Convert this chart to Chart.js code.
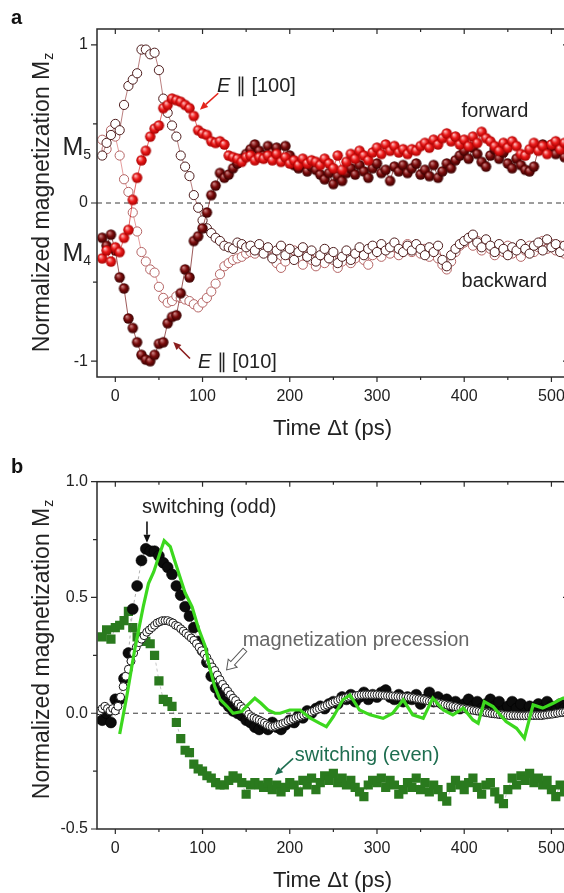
<!DOCTYPE html>
<html><head><meta charset="utf-8">
<script src="https://cdn.jsdelivr.net/npm/chart.js@4.4.1/dist/chart.umd.min.js"></script>
<style>
html,body{margin:0;padding:0;background:#fff;overflow:hidden;width:564px;height:893px;}
#wrapA{position:absolute;left:0;top:0;width:600px;height:450px;}
#wrapB{position:absolute;left:0;top:450px;width:600px;height:443px;}
canvas{display:block;}
</style></head><body>
<div id="wrapA"><canvas id="cA" width="600" height="450"></canvas></div>
<div id="wrapB"><canvas id="cB" width="600" height="443"></canvas></div>
<script>
// ---------------- DATA ----------------
const timeA = [-15,-10,-5,0,5,10,15,20,25,30,35,40,45,50,55,60,65,70,75,80,85,90,95,100,105,110,115,120,125,130,135,140,145,150,155,160,165,170,175,180,185,190,195,200,205,210,215,220,225,230,235,240,245,250,255,260,265,270,275,280,285,290,295,300,305,310,315,320,325,330,335,340,345,350,355,360,365,370,375,380,385,390,395,400,405,410,415,420,425,430,435,440,445,450,455,460,465,470,475,480,485,490,495,500,505,510,515,520];
// forward, E || [100] (bright red spheres)
const fwd100 = [-0.35,-0.30,-0.37,-0.28,-0.31,-0.22,-0.17,0.02,0.16,0.27,0.33,0.42,0.47,0.49,0.60,0.62,0.66,0.65,0.64,0.62,0.60,0.55,0.46,0.44,0.43,0.39,0.38,0.39,0.37,0.30,0.29,0.28,0.26,0.29,0.30,0.27,0.29,0.28,0.30,0.27,0.31,0.26,0.29,0.25,0.27,0.24,0.28,0.25,0.27,0.26,0.24,0.28,0.25,0.22,0.30,0.21,0.26,0.31,0.28,0.33,0.30,0.27,0.32,0.35,0.31,0.37,0.33,0.36,0.32,0.34,0.31,0.34,0.33,0.36,0.38,0.35,0.40,0.37,0.41,0.44,0.39,0.42,0.37,0.40,0.36,0.42,0.38,0.45,0.41,0.39,0.36,0.33,0.38,0.35,0.39,0.36,0.31,0.30,0.34,0.38,0.33,0.36,0.31,0.37,0.39,0.34,0.38,0.35];
// forward, E || [010] (dark red spheres)
const fwd010 = [-0.22,-0.27,-0.20,-0.30,-0.47,-0.54,-0.73,-0.79,-0.88,-0.96,-0.99,-1.00,-0.96,-0.89,-0.88,-0.76,-0.72,-0.71,-0.57,-0.42,-0.47,-0.24,-0.21,-0.16,-0.06,0.05,0.11,0.19,0.16,0.18,0.22,0.25,0.28,0.31,0.34,0.37,0.33,0.30,0.36,0.32,0.35,0.27,0.36,0.30,0.24,0.22,0.25,0.20,0.23,0.21,0.18,0.15,0.19,0.12,0.17,0.14,0.19,0.22,0.18,0.24,0.20,0.16,0.22,0.25,0.19,0.21,0.14,0.23,0.20,0.24,0.19,0.22,0.25,0.18,0.21,0.17,0.24,0.16,0.20,0.25,0.22,0.27,0.30,0.33,0.28,0.35,0.31,0.26,0.23,0.30,0.34,0.28,0.32,0.25,0.22,0.28,0.24,0.21,0.20,0.23,0.34,0.37,0.33,0.36,0.31,0.35,0.29,0.33];
// backward, E || [100] (open circles, dark edge)
const bwd100 = [0.30,0.38,0.43,0.50,0.46,0.62,0.74,0.78,0.82,0.97,0.97,0.94,0.95,0.84,0.66,0.57,0.49,0.42,0.30,0.23,0.17,0.05,-0.03,-0.11,-0.16,-0.19,-0.22,-0.24,-0.27,-0.28,-0.29,-0.25,-0.26,-0.28,-0.27,-0.30,-0.26,-0.32,-0.28,-0.35,-0.30,-0.27,-0.33,-0.29,-0.36,-0.31,-0.28,-0.34,-0.30,-0.37,-0.33,-0.29,-0.35,-0.31,-0.38,-0.34,-0.30,-0.36,-0.32,-0.28,-0.33,-0.29,-0.27,-0.31,-0.26,-0.30,-0.28,-0.25,-0.29,-0.31,-0.27,-0.30,-0.26,-0.29,-0.33,-0.28,-0.31,-0.27,-0.36,-0.40,-0.33,-0.29,-0.26,-0.24,-0.22,-0.20,-0.25,-0.28,-0.23,-0.27,-0.31,-0.26,-0.29,-0.33,-0.28,-0.30,-0.26,-0.29,-0.32,-0.27,-0.25,-0.30,-0.23,-0.28,-0.26,-0.31,-0.27,-0.29];
// backward, E || [010] (open circles, pink edge)
const bwd010 = [0.40,0.34,0.46,0.42,0.30,0.15,0.07,-0.06,-0.18,-0.31,-0.37,-0.42,-0.44,-0.53,-0.60,-0.63,-0.62,-0.59,-0.60,-0.61,-0.62,-0.64,-0.66,-0.63,-0.60,-0.56,-0.51,-0.45,-0.40,-0.38,-0.36,-0.35,-0.34,-0.32,-0.31,-0.32,-0.30,-0.29,-0.31,-0.34,-0.38,-0.41,-0.37,-0.33,-0.30,-0.35,-0.39,-0.33,-0.36,-0.40,-0.34,-0.38,-0.32,-0.36,-0.41,-0.37,-0.33,-0.38,-0.35,-0.31,-0.36,-0.39,-0.33,-0.30,-0.34,-0.29,-0.32,-0.28,-0.33,-0.30,-0.26,-0.31,-0.28,-0.32,-0.29,-0.34,-0.30,-0.35,-0.39,-0.42,-0.37,-0.31,-0.27,-0.25,-0.23,-0.27,-0.24,-0.30,-0.26,-0.29,-0.33,-0.28,-0.31,-0.27,-0.32,-0.29,-0.34,-0.30,-0.27,-0.31,-0.28,-0.24,-0.29,-0.26,-0.30,-0.27,-0.32,-0.28];

const timeB = [-15,-10,-5,0,5,10,15,20,25,30,35,40,45,50,55,60,65,70,75,80,85,90,95,100,105,110,115,120,125,130,135,140,145,150,155,160,165,170,175,180,185,190,195,200,205,210,215,220,225,230,235,240,245,250,255,260,265,270,275,280,285,290,295,300,305,310,315,320,325,330,335,340,345,350,355,360,365,370,375,380,385,390,395,400,405,410,415,420,425,430,435,440,445,450,455,460,465,470,475,480,485,490,495,500,505,510,515,520];
// switching (odd) — black filled circles
const switchOdd = [-0.03,0.00,-0.04,0.06,0.06,0.15,0.26,0.45,0.55,0.66,0.71,0.70,0.70,0.68,0.65,0.63,0.60,0.55,0.51,0.46,0.42,0.37,0.31,0.27,0.22,0.16,0.11,0.08,0.05,0.03,0.01,0.00,-0.01,-0.03,-0.04,-0.06,-0.07,-0.05,-0.07,-0.04,-0.06,-0.07,-0.05,-0.03,-0.04,-0.01,-0.02,0.01,0.00,0.02,0.03,0.02,0.04,0.05,0.04,0.07,0.06,0.08,0.05,0.07,0.09,0.06,0.08,0.07,0.09,0.10,0.07,0.06,0.08,0.05,0.07,0.06,0.08,0.04,0.06,0.09,0.05,0.07,0.04,0.06,0.03,0.05,0.02,0.04,0.06,0.03,0.05,0.02,0.04,0.06,0.03,0.05,0.01,0.03,0.05,0.02,0.04,0.00,0.03,0.01,0.04,0.02,0.05,0.03,0.01,0.04,0.02,0.03];
// switching (even) — green squares
const switchEven = [0.33,0.36,0.32,0.37,0.38,0.40,0.44,0.37,0.33,0.32,0.31,0.30,0.25,0.14,0.06,0.05,0.03,-0.04,-0.11,-0.16,-0.17,-0.22,-0.24,-0.25,-0.27,-0.28,-0.30,-0.31,-0.31,-0.29,-0.27,-0.28,-0.30,-0.35,-0.31,-0.30,-0.31,-0.32,-0.30,-0.33,-0.31,-0.34,-0.32,-0.30,-0.31,-0.34,-0.29,-0.31,-0.28,-0.33,-0.30,-0.27,-0.29,-0.26,-0.30,-0.28,-0.31,-0.29,-0.32,-0.34,-0.36,-0.31,-0.29,-0.30,-0.28,-0.32,-0.29,-0.31,-0.35,-0.33,-0.30,-0.32,-0.28,-0.33,-0.30,-0.34,-0.31,-0.33,-0.36,-0.38,-0.32,-0.29,-0.31,-0.33,-0.30,-0.28,-0.32,-0.35,-0.31,-0.30,-0.34,-0.37,-0.39,-0.33,-0.28,-0.31,-0.27,-0.29,-0.26,-0.30,-0.28,-0.31,-0.29,-0.33,-0.36,-0.31,-0.34,-0.32];
// magnetization precession — open circles (denser sampling)
const timePrec = [-18,-15,-12,-9,-6,-3,0,3,6,9,12,15,18,21,24,27,30,33,36,39,42,45,48,51,54,57,60,63,66,69,72,75,78,81,84,87,90,93,96,99,102,105,108,111,114,117,120,123,126,129,132,135,138,141,144,147,150,153,156,159,162,165,168,171,174,177,180,183,186,189,192,195,198,201,204,207,210,213,216,219,222,225,228,231,234,237,240,243,246,249,252,255,258,261,264,267,270,273,276,279,282,285,288,291,294,297,300,303,306,309,312,315,318,321,324,327,330,333,336,339,342,345,348,351,354,357,360,363,366,369,372,375,378,381,384,387,390,393,396,399,402,405,408,411,414,417,420,423,426,429,432,435,438,441,444,447,450,453,456,459,462,465,468,471,474,477,480,483,486,489,492,495,498,501,504,507,510,513,516,519];
const precession = [0.01,0.02,0.03,0.02,0.01,0.02,0.01,0.03,0.07,0.115,0.16,0.19,0.225,0.26,0.285,0.305,0.32,0.335,0.35,0.36,0.37,0.38,0.39,0.395,0.40,0.40,0.40,0.395,0.39,0.38,0.375,0.365,0.355,0.345,0.335,0.325,0.315,0.30,0.285,0.27,0.255,0.24,0.22,0.20,0.185,0.165,0.145,0.125,0.11,0.095,0.08,0.065,0.055,0.04,0.03,0.02,0.01,-0.005,-0.015,-0.02,-0.025,-0.03,-0.036,-0.042,-0.05,-0.055,-0.058,-0.056,-0.052,-0.048,-0.044,-0.04,-0.034,-0.03,-0.025,-0.02,-0.016,-0.012,-0.008,-0.004,0.0,0.005,0.01,0.015,0.02,0.025,0.03,0.035,0.04,0.045,0.05,0.055,0.06,0.063,0.066,0.069,0.072,0.074,0.076,0.078,0.079,0.08,0.08,0.08,0.08,0.08,0.08,0.079,0.078,0.077,0.076,0.075,0.074,0.073,0.072,0.071,0.07,0.07,0.07,0.068,0.066,0.064,0.062,0.06,0.058,0.055,0.052,0.05,0.047,0.045,0.043,0.04,0.038,0.035,0.033,0.03,0.028,0.025,0.022,0.02,0.018,0.016,0.014,0.012,0.01,0.008,0.006,0.004,0.002,0.0,-0.002,-0.003,-0.004,-0.006,-0.007,-0.008,-0.009,-0.01,-0.01,-0.01,-0.011,-0.011,-0.011,-0.011,-0.01,-0.01,-0.01,-0.01,-0.01,-0.01,-0.008,-0.007,-0.005,-0.004,-0.002,0.0,0.002,0.003,0.004,0.005];
// green line
const lineTime = [5,13,22,32,38,44,51,56,63,68,74,80,88,95,103,108,114,120,128,135,145,152,160,167,175,183,189,200,212,223,234,242,250,261,269,280,292,307,318,330,341,353,364,376,387,399,410,416,423,433,448,460,469,479,490,502,513,519];
const lineVal = [-0.09,0.07,0.27,0.46,0.56,0.61,0.69,0.745,0.72,0.66,0.59,0.52,0.46,0.37,0.29,0.20,0.115,0.06,0.03,0.0,0.007,0.036,0.065,0.043,0.014,0.0,0.0,0.014,0.014,-0.02,-0.043,-0.058,-0.015,0.058,0.079,0.014,-0.007,-0.022,0.0,0.058,-0.007,-0.022,0.065,0.014,-0.007,0.022,-0.029,-0.043,0.05,0.029,-0.036,-0.065,-0.108,0.036,0.022,0.043,0.065,0.07];

// tick values and labels
const xMajor = [0,100,200,300,400,500];
const xMinor = [50,150,250,350,450];
const yMajorA = [-1,0,1];
const yMinorA = [-0.5,0.5];
const yMajorB = [-0.5,0,0.5,1.0];
const yMinorB = [-0.25,0.25,0.75];
const levelLabelsA = [{main:'M',sub:'5',v:0.36},{main:'M',sub:'4',v:-0.31}];

// ---------------- STYLE / HELPERS ----------------
const FONT = '"Liberation Sans", Arial, Helvetica, sans-serif';
const TXT = '#222';
const pts = (xs, ys) => xs.map((x,i)=>({x, y: ys[i]}));

function makeSphere(r, hi, base, rim){
  const s = Math.ceil(r*2+2);
  const c = document.createElement('canvas'); c.width = s; c.height = s;
  const g = c.getContext('2d'); const cx = s/2, cy = s/2;
  const gr = g.createRadialGradient(cx - r*0.35, cy - r*0.4, r*0.05, cx, cy, r);
  gr.addColorStop(0, hi); gr.addColorStop(0.5, base); gr.addColorStop(1, rim);
  g.fillStyle = gr; g.beginPath(); g.arc(cx, cy, r, 0, Math.PI*2); g.fill();
  return c;
}
const sphereRed = makeSphere(5.2, '#ffc4c4', '#ec1b1b', '#a80000');
const sphereDark = makeSphere(5.2, '#d08a8a', '#7c0c0c', '#380000');

function drawParts(ctx, x, y, parts, size, color, align){
  let w = 0;
  for (const p of parts){ ctx.font = `${p[1]||''} ${size}px ${FONT}`; w += ctx.measureText(p[0]).width; }
  let cx = align === 'right' ? x - w : x;
  ctx.fillStyle = color; ctx.textBaseline = 'alphabetic'; ctx.textAlign = 'left';
  for (const p of parts){ ctx.font = `${p[1]||''} ${size}px ${FONT}`; ctx.fillText(p[0], cx, y); cx += ctx.measureText(p[0]).width; }
}
function solidArrow(ctx, x1,y1,x2,y2,color,lw,hl,hw){
  const a = Math.atan2(y2-y1, x2-x1);
  const bx = x2 - hl*Math.cos(a), by = y2 - hl*Math.sin(a);
  ctx.save(); ctx.strokeStyle = color; ctx.lineWidth = lw; ctx.setLineDash([]);
  ctx.beginPath(); ctx.moveTo(x1,y1); ctx.lineTo(bx,by); ctx.stroke();
  ctx.fillStyle = color; ctx.beginPath(); ctx.moveTo(x2,y2);
  ctx.lineTo(bx + hw/2*Math.sin(a), by - hw/2*Math.cos(a));
  ctx.lineTo(bx - hw/2*Math.sin(a), by + hw/2*Math.cos(a));
  ctx.closePath(); ctx.fill(); ctx.restore();
}
function hollowArrow(ctx, x1,y1,x2,y2, sw, hw, hl, color){
  const a = Math.atan2(y2-y1, x2-x1), L = Math.hypot(x2-x1, y2-y1);
  ctx.save(); ctx.translate(x1,y1); ctx.rotate(a); ctx.beginPath();
  ctx.moveTo(0,-sw/2); ctx.lineTo(L-hl,-sw/2); ctx.lineTo(L-hl,-hw/2); ctx.lineTo(L,0);
  ctx.lineTo(L-hl,hw/2); ctx.lineTo(L-hl,sw/2); ctx.lineTo(0,sw/2); ctx.closePath();
  ctx.fillStyle = '#fff'; ctx.fill(); ctx.strokeStyle = color; ctx.lineWidth = 1; ctx.stroke(); ctx.restore();
}

function decoPlugin(cfg){
  return {
    id: 'deco',
    beforeDatasetsDraw(chart){
      const {ctx, chartArea:a, scales:{y}} = chart;
      const y0 = y.getPixelForValue(0);
      ctx.save(); ctx.strokeStyle = '#3a3a3a'; ctx.lineWidth = 1; ctx.setLineDash([5,4]);
      ctx.beginPath(); ctx.moveTo(a.left, y0); ctx.lineTo(a.right, y0); ctx.stroke(); ctx.restore();
    },
    afterDraw(chart){
      const {ctx, chartArea:a, scales:{x, y}} = chart;
      ctx.save();
      ctx.strokeStyle = '#2a2a2a'; ctx.lineWidth = 1.5; ctx.setLineDash([]);
      ctx.strokeRect(a.left, a.top, a.right - a.left, a.bottom - a.top);
      ctx.lineWidth = 1.2;
      const tickX = (vals, len, lenIn) => vals.forEach(v => { const px = x.getPixelForValue(v);
        ctx.beginPath(); ctx.moveTo(px, a.bottom); ctx.lineTo(px, a.bottom + len);
        ctx.moveTo(px, a.top); ctx.lineTo(px, a.top + lenIn); ctx.stroke(); });
      const tickY = (vals, len, lenIn) => vals.forEach(v => { const py = y.getPixelForValue(v);
        ctx.beginPath(); ctx.moveTo(a.left, py); ctx.lineTo(a.left - len, py);
        ctx.moveTo(a.right, py); ctx.lineTo(a.right - lenIn, py); ctx.stroke(); });
      tickX(xMajor, 5, 5); tickX(xMinor, 3, 3);
      tickY(cfg.yMajor, 6, 5); tickY(cfg.yMinor, 4, 3);
      ctx.fillStyle = '#111'; ctx.font = `bold 20px ${FONT}`; ctx.textBaseline = 'alphabetic'; ctx.textAlign = 'left';
      ctx.fillText(cfg.letter, 11, cfg.letterY);
      ctx.save(); ctx.translate(49, cfg.yTitleCenter); ctx.rotate(-Math.PI/2);
      ctx.font = `23px ${FONT}`; const w1 = ctx.measureText('Normalized magnetization M').width;
      ctx.font = `14px ${FONT}`; const w2 = ctx.measureText('z').width;
      const st = -(w1 + w2)/2; ctx.fillStyle = TXT;
      ctx.font = `23px ${FONT}`; ctx.fillText('Normalized magnetization M', st, 0);
      ctx.font = `14px ${FONT}`; ctx.fillText('z', st + w1 + 1, 4);
      ctx.restore();
      ctx.font = `22px ${FONT}`; ctx.fillStyle = TXT; ctx.textAlign = 'center';
      ctx.fillText('Time \u0394t (ps)', (a.left + a.right)/2, a.bottom + 58);
      ctx.textAlign = 'left';
      (cfg.levels || []).forEach(L => {
        const py = y.getPixelForValue(L.v);
        ctx.font = `14px ${FONT}`; const ws = ctx.measureText(L.sub).width;
        ctx.font = `25px ${FONT}`; const wm = ctx.measureText(L.main).width;
        const right = a.left - 6; ctx.fillStyle = TXT;
        ctx.fillText(L.main, right - ws - wm, py + 9);
        ctx.font = `14px ${FONT}`; ctx.fillText(L.sub, right - ws, py + 13);
      });
      (cfg.arrows || []).forEach(A => {
        const x1 = x.getPixelForValue(A.from[0]), y1 = y.getPixelForValue(A.from[1]);
        const x2 = x.getPixelForValue(A.to[0]), y2 = y.getPixelForValue(A.to[1]);
        if (A.hollow) hollowArrow(ctx, x1,y1,x2,y2, 5, 12, 9, A.color);
        else solidArrow(ctx, x1,y1,x2,y2, A.color, 1.6, 8, 7);
      });
      (cfg.texts || []).forEach(T => {
        drawParts(ctx, x.getPixelForValue(T.t), y.getPixelForValue(T.v), T.parts, T.size, T.color);
      });
      ctx.restore();
    }
  };
}

function scalesCfg(yMin, yMax, yTicks, yFmt, xHeight){
  const tickFont = {family: FONT, size: 16};
  return {
    x: { type:'linear', position:'bottom', min:-21, max:519,
      grid:{display:false, drawTicks:false}, border:{display:false},
      ticks:{padding:10, color:TXT, font:tickFont, maxRotation:0, autoSkip:false, callback:v=>String(v)},
      afterBuildTicks: s => { s.ticks = xMajor.map(v=>({value:v})); },
      afterFit: s => { s.height = xHeight; } },
    y: { type:'linear', position:'left', min:yMin, max:yMax,
      grid:{display:false, drawTicks:false}, border:{display:false},
      ticks:{padding:9, color:TXT, font:tickFont, autoSkip:false, callback:yFmt},
      afterBuildTicks: s => { s.ticks = yTicks.map(v=>({value:v})); },
      afterFit: s => { s.width = 97; } }
  };
}

const common = {
  responsive:false, animation:false, events:[],
  plugins:{legend:{display:false}, tooltip:{enabled:false}}
};

// ---------------- PANEL A ----------------
new Chart(document.getElementById('cA'), {
  type:'scatter',
  data:{ datasets:[
    { label:'forward E\u2225[100]', data:pts(timeA, fwd100), showLine:true, borderColor:'rgba(215,30,30,0.85)', borderWidth:0.8,
      pointStyle:sphereRed, pointRadius:5 },
    { label:'forward E\u2225[010]', data:pts(timeA, fwd010), showLine:true, borderColor:'rgba(110,10,10,0.85)', borderWidth:0.8,
      pointStyle:sphereDark, pointRadius:5 },
    { label:'backward E\u2225[100]', data:pts(timeA, bwd100), showLine:true, borderColor:'rgba(140,40,40,0.75)', borderWidth:0.8,
      pointStyle:'circle', pointRadius:4.6, pointBackgroundColor:'#fff', pointBorderColor:'#4d1c1c', pointBorderWidth:1 },
    { label:'backward E\u2225[010]', data:pts(timeA, bwd010), showLine:true, borderColor:'rgba(215,100,100,0.8)', borderWidth:0.8,
      pointStyle:'circle', pointRadius:4.6, pointBackgroundColor:'#fff', pointBorderColor:'#b56565', pointBorderWidth:1 }
  ]},
  options: Object.assign({}, common, {
    layout:{padding:{left:0, top:29, right:32, bottom:0}},
    scales: scalesCfg(-1.1, 1.1, yMajorA, v=>String(v), 73)
  }),
  plugins:[decoPlugin({
    letter:'a', letterY:24, yTitleCenter:203, yMajor:yMajorA, yMinor:yMinorA, levels:levelLabelsA,
    arrows:[ {from:[118,0.694], to:[97,0.589], color:'#e3241b'},
             {from:[85.6,-0.983], to:[66.4,-0.878], color:'#8a1c1c'} ],
    texts:[ {t:116.5, v:0.704, size:20, color:TXT, parts:[['E','italic'],[' \u2225 [100]','']]},
            {t:397, v:0.546, size:20, color:TXT, parts:[['forward','']]},
            {t:397, v:-0.534, size:20, color:TXT, parts:[['backward','']]},
            {t:94.7, v:-1.046, size:20, color:TXT, parts:[['E','italic'],[' \u2225 [010]','']]} ]
  })]
});

// ---------------- PANEL B ----------------
new Chart(document.getElementById('cB'), {
  type:'scatter',
  data:{ datasets:[
    { label:'model', data:pts(lineTime, lineVal), showLine:true, borderColor:'#3cd81e', borderWidth:3.2,
      pointRadius:0 },
    { label:'magnetization precession', data:pts(timePrec, precession), showLine:false,
      pointStyle:'circle', pointRadius:4, pointBackgroundColor:'#fff', pointBorderColor:'#1a1a1a', pointBorderWidth:1 },
    { label:'switching (odd)', data:pts(timeB, switchOdd), showLine:true, borderColor:'rgba(90,90,90,0.6)', borderWidth:0.8, borderDash:[3,3],
      pointStyle:'circle', pointRadius:5.5, pointBackgroundColor:'#0c0c0c', pointBorderColor:'#000', pointBorderWidth:0.5 },
    { label:'switching (even)', data:pts(timeB, switchEven), showLine:true, borderColor:'rgba(110,110,110,0.5)', borderWidth:0.8, borderDash:[3,3],
      pointStyle:'rect', pointRadius:6.5, pointBackgroundColor:'#2a7a1e', pointBorderColor:'#2a7a1e', pointBorderWidth:0 }
  ]},
  options: Object.assign({}, common, {
    layout:{padding:{left:0, top:31.7, right:32, bottom:0}},
    scales: scalesCfg(-0.5, 1.0, yMajorB, v=>v.toFixed(1), 64)
  }),
  plugins:[decoPlugin({
    letter:'b', letterY:23, yTitleCenter:200, yMajor:yMajorB, yMinor:yMinorB, levels:[],
    arrows:[ {from:[36.3,0.828], to:[36.3,0.736], color:'#111'},
             {from:[148.6,0.274], to:[127.6,0.187], color:'#555', hollow:true},
             {from:[203.9,-0.195], to:[183,-0.267], color:'#1e6e50'} ],
    texts:[ {t:30.6, v:0.866, size:20, color:TXT, parts:[['switching (odd)','']]},
            {t:146, v:0.291, size:20, color:'#666', parts:[['magnetization precession','']]},
            {t:205.8, v:-0.205, size:20, color:'#1e6e50', parts:[['switching (even)','']]} ]
  })]
});
</script></body></html>
